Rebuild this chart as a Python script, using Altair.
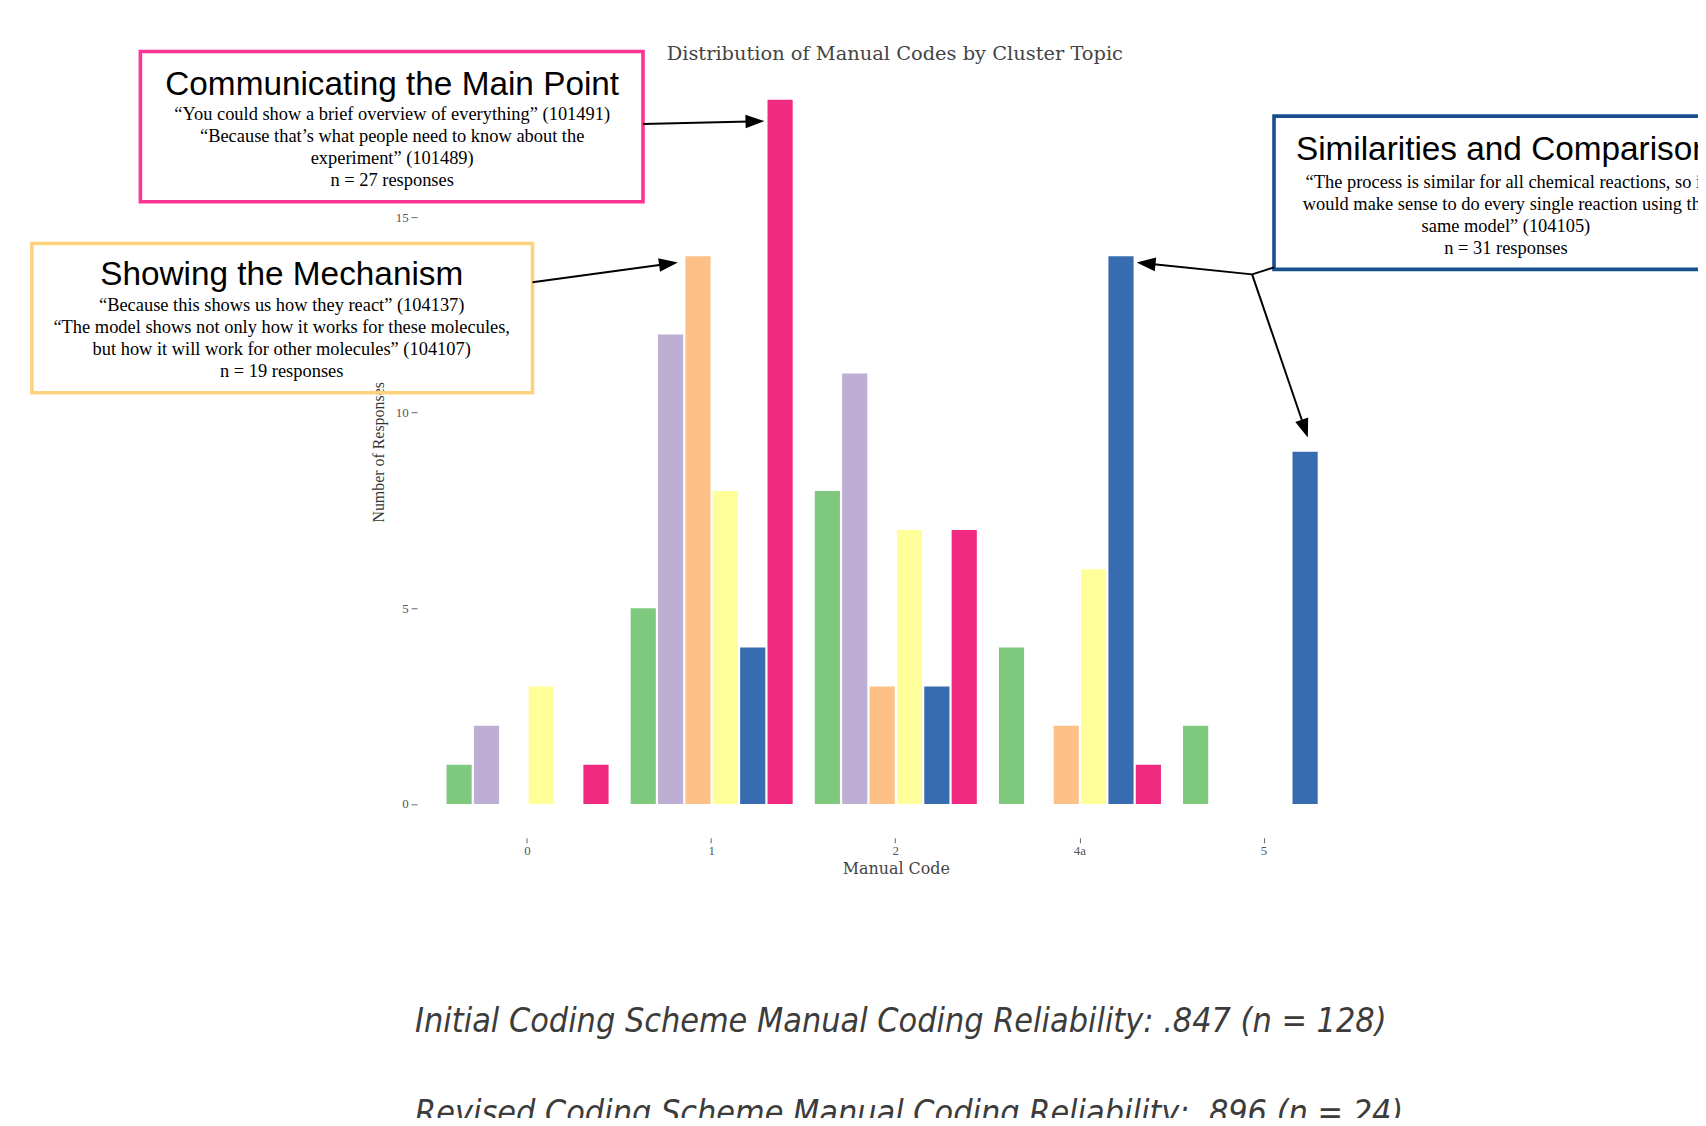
import math
import altair as alt
import pandas as pd

# ---------------- data ----------------
codes = ["0", "1", "2", "4a", "5"]
clusters = [
    "Cluster 1",
    "Cluster 2",
    "Showing the Mechanism",
    "Cluster 4",
    "Similarities and Comparison",
    "Communicating the Main Point",
]
cluster1_counts = [1, 5, 8, 4, 2]
cluster2_counts = [2, 12, 11, 0, 0]
mechanism_counts = [0, 14, 3, 2, 0]
cluster4_counts = [3, 8, 7, 6, 0]
comparison_counts = [0, 4, 3, 14, 9]
main_point_counts = [1, 18, 7, 1, 0]
colors = ["#7fc97f", "#beaed4", "#fdc086", "#ffff99", "#386cb0", "#f02a80"]

y_ticks = [0, 5, 10, 15]

title_text = "Distribution of Manual Codes by Cluster Topic"
box1_title = "Communicating the Main Point"
box1_lines = [
    "\u201cYou could show a brief overview of everything\u201d (101491)",
    "\u201cBecause that\u2019s what people need to know about the",
    "experiment\u201d (101489)",
    "n = 27 responses",
]
box2_title = "Showing the Mechanism"
box2_lines = [
    "\u201cBecause this shows us how they react\u201d (104137)",
    "\u201cThe model shows not only how it works for these molecules,",
    "but how it will work for other molecules\u201d (104107)",
    "n = 19 responses",
]
box3_title = "Similarities and Comparison"
box3_lines = [
    "\u201cThe process is similar for all chemical reactions, so it",
    "would make sense to do every single reaction using the",
    "same model\u201d (104105)",
    "n = 31 responses",
]
bottom_lines = [
    "Initial Coding Scheme Manual Coding Reliability: .847 (n = 128)",
    "Revised Coding Scheme Manual Coding Reliability: .896 (n = 24)",
]

series = [cluster1_counts, cluster2_counts, mechanism_counts,
          cluster4_counts, comparison_counts, main_point_counts]
rows = []
for name, vals in zip(clusters, series):
    for c, v in zip(codes, vals):
        rows.append({"code": c, "cluster": name, "count": v})
df = pd.DataFrame(rows)

# ---------------- layout ----------------
W, H = 962, 707.6
OX, OY = 419, 97.5  # page position of plot origin


def px(X):
    return X - OX


def py(Y):
    return Y - OY


one = alt.Data(values=[{"a": 1}])

SERIF = "Liberation Serif"
SANS = "Liberation Sans"


def text_layer(s, X, Y, font, size, color="black", align="center",
               baseline="middle", style="normal"):
    return alt.Chart(one).mark_text(
        text=s, font=font, fontSize=size, color=color, align=align,
        baseline=baseline, fontStyle=style
    ).encode(x=alt.value(px(X)), y=alt.value(py(Y)))


def rect_layer(X1, X2, Y1, Y2, color):
    return alt.Chart(one).mark_rect(
        fill="white", fillOpacity=0, stroke=color, strokeWidth=3.6
    ).encode(x=alt.value(px(X1)), x2=alt.value(px(X2)),
             y=alt.value(py(Y1)), y2=alt.value(py(Y2)))


def line_layer(X1, Y1, X2, Y2):
    return alt.Chart(one).mark_rule(color="black", strokeWidth=2).encode(
        x=alt.value(px(X1)), y=alt.value(py(Y1)),
        x2=alt.value(px(X2)), y2=alt.value(py(Y2)))


def arrow(X1, Y1, X2, Y2, head=19):
    ang = math.degrees(math.atan2(Y2 - Y1, X2 - X1))
    d = math.hypot(X2 - X1, Y2 - Y1)
    bx = X2 - (X2 - X1) / d * (head - 4)
    by = Y2 - (Y2 - Y1) / d * (head - 4)
    ln = line_layer(X1, Y1, bx, by)
    hd = alt.Chart(one).mark_point(
        shape="M0,0L-2,-0.72L-2,0.72Z", filled=True, color="black",
        opacity=1, size=head ** 2, angle=ang % 360
    ).encode(x=alt.value(px(X2)), y=alt.value(py(Y2)))
    return [ln, hd]


bars = alt.Chart(df).mark_bar().encode(
    x=alt.X("code:N", sort=codes,
            scale=alt.Scale(paddingInner=0.108, paddingOuter=0.154),
            axis=alt.Axis(title="Manual Code", labelAngle=0, domain=False,
                          ticks=True, tickSize=5, tickColor="#666",
                          offset=34, labelPadding=2, labelFont=SERIF,
                          labelFontSize=13, labelColor="#555",
                          titleFont="DejaVu Serif", titleFontSize=16,
                          titleFontWeight="normal", titleColor="#444",
                          titlePadding=3)),
    xOffset=alt.XOffset("cluster:N", sort=clusters,
                        scale=alt.Scale(paddingInner=0.08, paddingOuter=0.04)),
    y=alt.Y("count:Q", scale=alt.Scale(domain=[0, 18], nice=False),
            axis=alt.Axis(values=y_ticks, title="Number of Responses",
                          domain=False, grid=False, tickSize=6,
                          tickColor="#666", labelPadding=3, labelFont=SERIF,
                          labelFontSize=13, labelColor="#555",
                          titleFont=SERIF, titleFontSize=16,
                          titleFontWeight="normal", titleColor="#333",
                          titleX=-31, titleY=H / 2, titleAngle=270,
                          titleBaseline="bottom", titleAlign="center")),
    color=alt.Color("cluster:N", sort=clusters,
                    scale=alt.Scale(domain=clusters, range=colors),
                    legend=None),
)

layers = [bars]

# chart title
layers.append(text_layer(title_text, 899, 52, "DejaVu Serif", 19.5, "#444"))

# box 1 (pink)
layers.append(rect_layer(141, 646, 49, 200, "#fe3394"))
layers.append(text_layer(box1_title, 394, 83, SANS, 33.5))
for i, s in enumerate(box1_lines):
    layers.append(text_layer(s, 394, 112 + 22.1 * i, SERIF, 18.5))
layers += arrow(646, 122, 768, 119)

# box 2 (yellow)
layers.append(rect_layer(32, 535, 242, 392, "#fdd27c"))
layers.append(text_layer(box2_title, 283, 274, SANS, 33.5))
for i, s in enumerate(box2_lines):
    layers.append(text_layer(s, 283, 303.5 + 22.1 * i, SERIF, 18.5))
layers += arrow(535, 281, 681, 261)

# box 3 (blue)
layers.append(rect_layer(1280, 1742, 114, 268, "#17508f"))
layers.append(text_layer(box3_title, 1302, 148, SANS, 33.5, align="left"))
for i, s in enumerate(box3_lines):
    layers.append(text_layer(s, 1513, 180.6 + 22.1 * i, SERIF, 18.5))
layers.append(line_layer(1280, 266, 1258, 273))
layers += arrow(1258, 273, 1142, 261)
layers += arrow(1258, 273, 1314, 437)

# bottom text
for i, s in enumerate(bottom_lines):
    layers.append(text_layer(
        s, 417, 1034 + 93 * i,
        "Liberation Sans Narrow, DejaVu Sans Condensed, Roboto Condensed, Roboto",
        34, "#3c3c3c", align="left", baseline="alphabetic", style="italic"))

chart = alt.layer(*layers).properties(
    width=W, height=H,
    autosize=alt.AutoSizeParams(type="none"),
    padding={"left": 411, "top": 89.5, "right": 325, "bottom": 312.9},
    background="white",
).configure_view(strokeWidth=0)

chart.save("out.html", embed_options={"renderer": "svg", "actions": False})
